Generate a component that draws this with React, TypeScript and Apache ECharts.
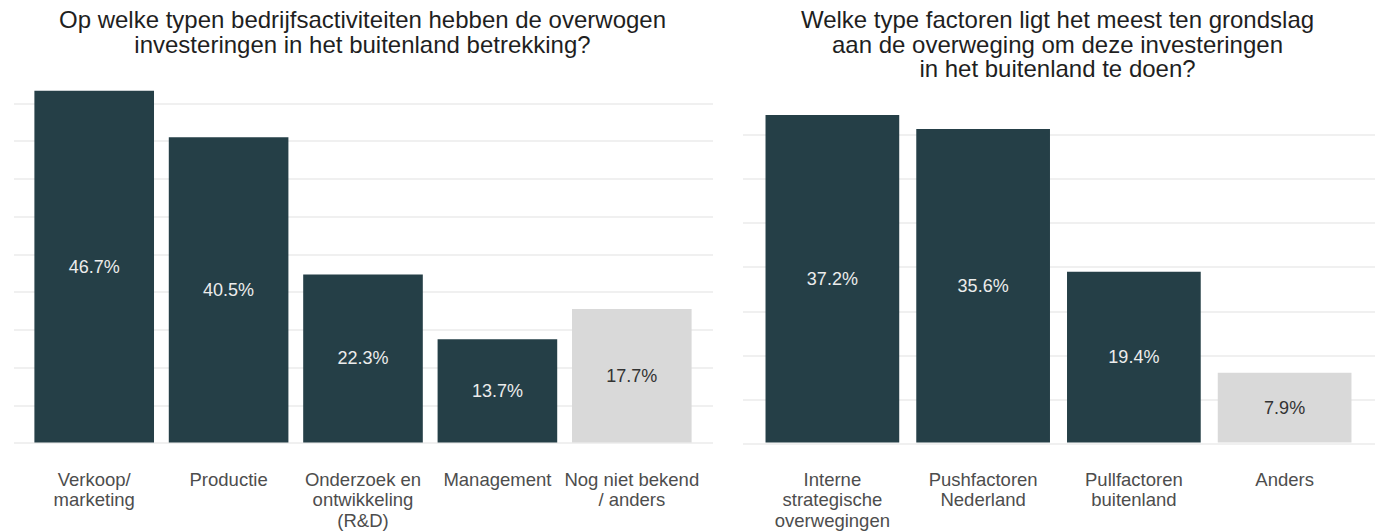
import React, { useEffect, useRef } from "react";
import * as echarts from "echarts";

const leftTitle =
  "Op welke typen bedrijfsactiviteiten hebben de overwogen\ninvesteringen in het buitenland betrekking?";
const rightTitle =
  "Welke type factoren ligt het meest ten grondslag\naan de overweging om deze investeringen\nin het buitenland te doen?";

const leftCategories = [
  "Verkoop/\nmarketing",
  "Productie",
  "Onderzoek en\nontwikkeling\n(R&D)",
  "Management",
  "Nog niet bekend\n/ anders",
];
const leftValues = [46.7, 40.5, 22.3, 13.7, 17.7];
const leftKnown = [true, true, true, true, false];

const rightCategories = [
  "Interne\nstrategische\noverwegingen",
  "Pushfactoren\nNederland",
  "Pullfactoren\nbuitenland",
  "Anders",
];
const rightValues = [37.2, 35.6, 19.4, 7.9];
const rightKnown = [true, true, true, false];

const FONT = '"Liberation Sans", Arial, Helvetica, sans-serif';
const DARK = "#253f47";
const GREY = "#d9d9d9";
const GRID_COLOR = "#ebebeb";

function barData(values: number[], known: boolean[]) {
  return values.map((v, i) => ({
    value: v,
    itemStyle: { color: known[i] ? DARK : GREY },
    label: { color: known[i] ? "#ececec" : "#333333" },
  }));
}

export default function App() {
  const ref = useRef<HTMLDivElement>(null);

  useEffect(() => {
    if (!ref.current) return;
    const chart = echarts.init(ref.current, undefined, { renderer: "svg" });

    const bgY = (max: number) => ({
      type: "value",
      min: 0,
      max,
      interval: 5,
      axisLabel: { show: false },
      axisLine: { show: false },
      axisTick: { show: false },
      splitLine: {
        show: true,
        showMaxLine: false,
        lineStyle: { color: GRID_COLOR, width: 1.5 },
      },
    });
    const barY = (max: number) => ({
      type: "value",
      min: 0,
      max,
      interval: 5,
      show: false,
      splitLine: { show: false },
    });
    const bgX = (gridIndex: number) => ({
      type: "category",
      gridIndex,
      data: [""],
      show: false,
    });
    const barX = (gridIndex: number, data: string[]) => ({
      type: "category",
      gridIndex,
      data,
      axisLine: { show: false },
      axisTick: { show: false },
      axisLabel: {
        interval: 0,
        fontSize: 18.5,
        lineHeight: 20.7,
        color: "#4d4d4d",
        fontFamily: FONT,
        margin: 26.5,
      },
    });

    const labelCfg = {
      show: true,
      position: "inside",
      fontSize: 18,
      fontFamily: FONT,
      formatter: (p: any) => Number(p.value).toFixed(1) + "%",
    };

    const titleStyle = (text: string) => ({
      text,
      fill: "#1f1f1f",
      font: `24px ${FONT}`,
      fontSize: 24,
      fontFamily: FONT,
      align: "center",
      verticalAlign: "top",
      textAlign: "center",
      textVerticalAlign: "top",
      lineHeight: 24.5,
    });

    chart.setOption({
      animation: false,
      backgroundColor: "#ffffff",
      grid: [
        { left: 14, width: 699, top: 73.3, height: 369.7 },
        { left: 27, width: 672, top: 73.3, height: 369.7 },
        { left: 743, width: 632, top: 99.1, height: 344.9 },
        { left: 757, width: 603, top: 99.1, height: 344.9 },
      ],
      xAxis: [
        bgX(0),
        barX(1, leftCategories),
        bgX(2),
        barX(3, rightCategories),
      ],
      yAxis: [
        { ...bgY(49), gridIndex: 0 },
        { ...barY(49), gridIndex: 1 },
        { ...bgY(39), gridIndex: 2 },
        { ...barY(39), gridIndex: 3 },
      ],
      series: [
        {
          type: "bar",
          xAxisIndex: 1,
          yAxisIndex: 1,
          barCategoryGap: "11%",
          data: barData(leftValues, leftKnown),
          label: labelCfg,
        },
        {
          type: "bar",
          xAxisIndex: 3,
          yAxisIndex: 3,
          barCategoryGap: "11.3%",
          data: barData(rightValues, rightKnown),
          label: labelCfg,
        },
      ],
      graphic: [
        { type: "text", x: 362.5, y: 7.3, style: titleStyle(leftTitle) },
        { type: "text", x: 1057.5, y: 7.3, style: titleStyle(rightTitle) },
      ],
    });

    return () => {
      chart.dispose();
    };
  }, []);

  return (
    <div
      ref={ref}
      style={{ position: "absolute", left: 0, top: 0, width: 1378, height: 531 }}
    />
  );
}
